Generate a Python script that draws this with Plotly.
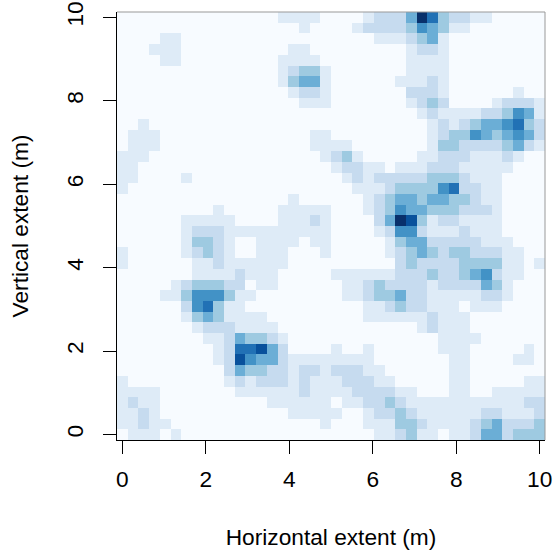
import plotly.graph_objects as go

# Binned density levels (0-8), one row of 40 cells per vertical position, top row first
density_rows = [
    "0000000000" "0000011110" "0001222486" "3221100000",
    "0000000000" "0000000100" "0012222354" "3110000000",
    "0000110000" "0000000000" "0000111234" "1000000000",
    "0001110000" "0000001100" "0000000122" "1000000000",
    "0000110000" "0000011110" "0000000111" "1000000000",
    "0000000000" "0000012331" "0000000111" "1000000000",
    "0000000000" "0000013441" "0000001112" "1000000000",
    "0000000000" "0000001221" "0000000222" "1000000100",
    "0000000000" "0000000111" "0000000123" "2000012221",
    "0000000000" "0000000000" "0000000012" "1111223541",
    "0010000000" "0000000000" "0000000001" "2123445632",
    "0111000000" "0000000011" "0000000001" "2335434542",
    "0111000000" "0000000011" "1100000001" "3322223421",
    "1110000000" "0000000001" "2310000011" "2221112100",
    "1100000000" "0000000000" "1221101112" "2211111000",
    "1100001000" "0000000000" "0121222223" "3321110000",
    "1000000000" "0000000000" "0011123333" "5622110000",
    "0000000000" "0000001000" "0001234434" "4332110000",
    "0000000001" "0000011111" "0001235443" "3322210000",
    "0000001111" "1000011121" "0000248731" "2211110000",
    "0000001222" "1111111111" "0000125521" "1121110000",
    "0000001332" "1001111011" "0000013442" "2222111000",
    "1000001232" "1001110001" "0000012343" "2332221100",
    "1000000112" "1111110000" "0000002322" "2233331101",
    "0000000111" "1211100000" "1111112223" "2234521100",
    "0000012333" "2201100000" "0112322221" "2222431000",
    "0000113555" "3110000000" "0112334221" "1111221000",
    "0000002563" "1100000000" "0001123221" "1101110000",
    "0000001343" "1111000000" "0001111112" "1110000000",
    "0000000122" "2111100000" "0000000012" "1110000000",
    "0000000011" "2433210000" "0000000000" "1111000000",
    "0000000001" "2667420000" "1001000000" "1110000010",
    "0000000001" "2754421111" "1111000000" "0110000110",
    "0000000000" "2433221221" "2221100000" "0110000000",
    "1000000000" "1212221211" "1222110000" "0110000011",
    "1111000000" "0111111211" "1122221100" "0110011111",
    "1211000000" "0000111111" "0112232111" "1111111122",
    "1121000000" "0000001111" "1001223211" "1111221112",
    "1121100000" "0000000001" "0001113321" "1112342223",
    "0111010000" "0000000000" "0000112311" "0112442333",
]
palette = ["#F7FBFF", "#DEEBF7", "#C6DBEF", "#9ECAE1", "#6BAED6",
           "#4292C6", "#2171B5", "#08519C", "#08306B"]
tick_values = [0, 2, 4, 6, 8, 10]
tick_labels = ["0", "2", "4", "6", "8", "10"]
x_title = "Horizontal extent (m)"
y_title = "Vertical extent (m)"

z = [[int(c) for c in row] for row in reversed(density_rows)]
n = len(palette)
colorscale = []
for i, c in enumerate(palette):
    colorscale += [[i / n, c], [(i + 1) / n, c]]

step = 10 / 39
fig = go.Figure(go.Heatmap(
    z=z, x0=0, dx=step, y0=0, dy=step,
    colorscale=colorscale, zmin=-0.5, zmax=n - 0.5,
    showscale=False, hoverinfo="skip",
))

font = dict(family="Liberation Sans, Arial, sans-serif", size=22.7, color="#000000")
axis_common = dict(
    tickmode="array", tickvals=tick_values, ticktext=tick_labels,
    ticks="outside", ticklen=13, tickwidth=1, tickcolor="#000000",
    showline=True, linecolor="#000000", linewidth=1,
    showgrid=False, zeroline=False, tickfont=font,
    ticklabeloverflow="allow", automargin=False,
)
fig.update_xaxes(range=[-step / 2, 10 + step / 2],
                 title=dict(text=x_title, font=font, standoff=39),
                 tickangle=0, ticklabelstandoff=6, **axis_common)
fig.update_yaxes(range=[-step / 2, 10 + step / 2],
                 title=dict(text=y_title, font=font, standoff=26),
                 tickangle=-90, ticklabelstandoff=11, **axis_common)
fig.update_layout(
    width=553, height=550, autosize=False,
    margin=dict(l=117, r=7.5, t=12, b=109.5, pad=0),
    paper_bgcolor="#FFFFFF", plot_bgcolor="#FFFFFF",
    shapes=[
        dict(type="line", xref="paper", yref="paper", x0=0, x1=1, y0=1, y1=1,
             line=dict(color="#999999", width=1)),
        dict(type="line", xref="paper", yref="paper", x0=1, x1=1, y0=0, y1=1,
             line=dict(color="#999999", width=1)),
    ],
)
fig.write_html("out.html", config={"displayModeBar": False},
               post_script="document.body.style.margin='0';")
